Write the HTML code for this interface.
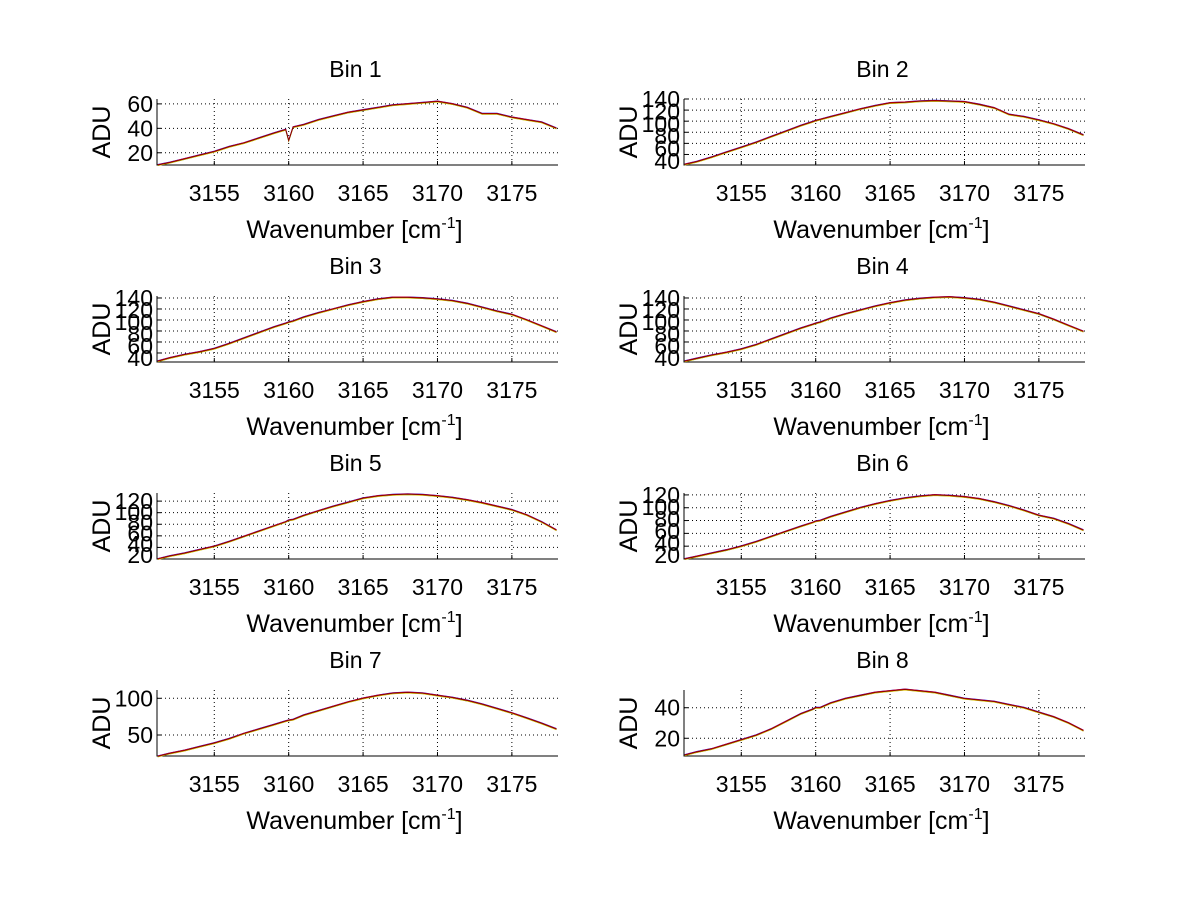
<!DOCTYPE html>
<html><head><meta charset="utf-8"><style>
html,body{margin:0;padding:0;background:#fff;width:1200px;height:901px;overflow:hidden}
svg{display:block;font-family:"Liberation Sans",sans-serif}
</style></head><body>
<svg id="fig" width="1200" height="901" viewBox="0 0 1200 901"></svg>
<script>
const wavenumbers=[3151.2,3152,3153,3154,3155,3156,3157,3158,3159,3159.8,3160,3160.3,3161,3162,3163,3164,3165,3166,3167,3168,3169,3170,3171,3172,3173,3174,3175,3176,3177,3178];
const bin1=[10,12,15,18,21,25,28,32,36,39,30,41,43,47,50,53,55,57,59,60,61,62,60,57,52,52,49,47,45,40];
const bin2=[22,27,35,44,53,62,72,82,92,99,101,103,108,115,122,128,133,134,136,137,136,135,130,124,112,108,102,95,86,75];
const bin3=[25,31,37,42,48,57,67,77,87,94,96,98,105,113,120,127,133,138,141,141,140,138,135,130,123,116,110,100,89,78];
const bin4=[25,30,36,41,47,55,65,75,85,92,94,96,103,111,118,125,131,136,139,141,142,140,137,132,125,118,111,101,90,79];
const bin5=[20,25,30,36,42,50,59,68,77,84,87,88,95,103,111,118,125,129,131,132,131,129,126,122,117,111,105,96,84,70];
const bin6=[20,24,29,34,40,47,55,63,71,77,79,80,86,93,100,106,111,115,118,120,119,117,114,109,103,96,88,83,75,65];
const bin7=[21,25,29,34,39,45,52,58,64,69,70,71,77,83,89,95,100,104,107,108,107,104,101,97,92,86,80,73,66,58];
const bin8=[9,11,13,16,19,22,26,31,36,39,40,40,43,46,48,50,51,52,51,50,48,46,45,44,42,40,37,34,30,25];
const binValues=[bin1,bin2,bin3,bin4,bin5,bin6,bin7,bin8];
const xTicks=[3155,3160,3165,3170,3175];
const yTicks=[[20,40,60],[40,60,80,100,120,140],[40,60,80,100,120,140],[40,60,80,100,120,140],[20,40,60,80,100,120],[20,40,60,80,100,120],[50,100],[20,40]];
const yMins=[10,21,23.6,23.6,20,20,21.4,8.4];
const yMaxs=[64,140,143.6,143.6,134,123,111.3,51.6];
const xMin=3151.15,xMax=3178.1;

const NS="http://www.w3.org/2000/svg";
const svg=document.getElementById('fig');
function mk(tag,attrs,parent){const e=document.createElementNS(NS,tag);for(const k in attrs)e.setAttribute(k,attrs[k]);(parent||svg).appendChild(e);return e;}
const colors=['#0000ff','#00bfbf','#e0c000','#ff0000','#800000'];
const offs=[-0.5,0.5,0.6,-0.3,0];
for(let b=0;b<8;b++){
  const col=b%2,row=Math.floor(b/2);
  const L=col?684:157,R=col?1085:558,T=99+row*197,B=165+row*197;
  const sx=v=>L+(v-xMin)/(xMax-xMin)*(R-L);
  const sy=v=>B-(v-yMins[b])/(yMaxs[b]-yMins[b])*(B-T);
  const g=mk('g',{});
  
  
  const cx=(L+R)/2;
  const t=mk('text',{x:cx-2,y:T-22,'text-anchor':'middle','font-size':23},g);t.textContent='Bin '+(b+1);
  
  xTicks.forEach(v=>{const x=sx(v);
    const gl=mk('line',{x1:x,x2:x,y1:T,y2:B,stroke:'#000','stroke-width':1,'stroke-dasharray':'1,3'},g);
    
    mk('line',{x1:x,x2:x,y1:B,y2:B-4,stroke:'#000'},g);
    const tl=mk('text',{x:x,y:B+36,'text-anchor':'middle','font-size':23},g);tl.textContent=v;
    
  });
  const yt=yTicks[b];
  const crowd=yt.length>3;
  yt.forEach((v,i)=>{const y=sy(v);
    const gl=mk('line',{x1:L,x2:R,y1:y,y2:y,stroke:'#000','stroke-width':1,'stroke-dasharray':'1,3'},g);
    
    mk('line',{x1:L,x2:L+4,y1:y,y2:y,stroke:'#000'},g);
    let ly=y;
    if(crowd){const top=sy(yt[yt.length-1]);ly=top+(B-4-top)*(yt.length-1-i)/(yt.length-1);}
    const tl=mk('text',{x:L-4,y:ly+8,'text-anchor':'end','font-size':23},g);tl.textContent=v;
    
  });
  mk('line',{x1:L,x2:L,y1:T,y2:B+0.5,stroke:'#000'},g);
  mk('line',{x1:L,x2:R,y1:B,y2:B,stroke:'#000'},g);
  colors.forEach((c,ci)=>{
    const pts=wavenumbers.map((w,i)=>sx(w).toFixed(1)+','+(sy(binValues[b][i])+offs[ci]).toFixed(1)).join(' ');
    const pl=mk('polyline',{points:pts,fill:'none',stroke:c,'stroke-width':0.9},g);
    
  });
  const xl=mk('text',{x:cx-3,y:B+73,'text-anchor':'middle','font-size':25},g);
  xl.innerHTML='Wavenumber [cm<tspan font-size="16" dy="-10">-1</tspan><tspan dy="10">]</tspan>';
  
  const yl=mk('text',{x:0,y:0,'text-anchor':'middle','font-size':25,transform:'translate('+(L-47)+','+((T+B)/2)+') rotate(-90)'},g);
  yl.textContent='ADU';
  
}
</script>
</body></html>
